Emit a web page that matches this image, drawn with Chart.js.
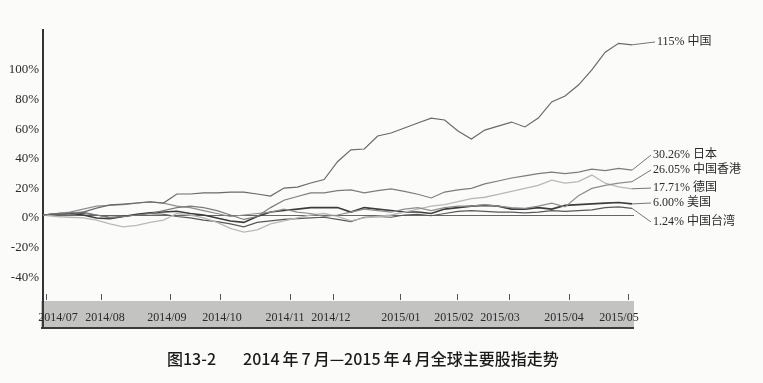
<!DOCTYPE html>
<html><head><meta charset="utf-8">
<script src="https://cdn.jsdelivr.net/npm/chart.js@4.4.1/dist/chart.umd.min.js"></script>
<style>
html,body{margin:0;padding:0;background:#fbfbf9;}
#wrap{position:relative;width:763px;height:383px;}
#c{position:absolute;left:0;top:0;}
#cap{position:absolute;left:167px;top:348px;line-height:20px;font-family:"Noto Sans CJK SC",sans-serif;font-size:16px;font-weight:500;color:#1a1a1a;white-space:nowrap;}
#cap .s{display:inline-block;width:3px;}
</style></head><body>
<div id="wrap"><canvas id="c" width="763" height="383"></canvas>
<div id="cap"><span>图13-2</span><span style="margin-left:27px">2014<span class="s"></span>年<span class="s"></span>7<span class="s"></span>月—2015<span class="s"></span>年<span class="s"></span>4<span class="s"></span>月全球主要股指走势</span></div></div>
<script>
// weekly cumulative returns (%) since 2014/07
const china   = [0,0.7,0,2,4.7,6.8,7.4,8.1,8.8,8.1,14.2,14.2,14.9,14.9,15.5,15.5,14.2,12.8,18.2,18.9,21.6,24,36,44,44.6,53.4,55.4,58.8,62.2,65.5,64.2,56.8,51.4,57.4,60.1,62.8,59.5,65.5,76.4,80.4,87.8,98,110,116,115];
const japan   = [0,1,1.5,2,0,-2,-1,0,1,3,5,6,5,3,0,-3,-1,5,10,12.5,15,15,16.5,17,15,16.5,17.6,16,14,11.5,15.5,17,18,21,23,25,26.5,28,29,28,29,31,30,31.5,30.3];
const hongkong= [0,1,2,4,6,6.5,7,8,9,8,6,5,3,1,-1,0,1,2,4,2,1,-1,0,2,4,3,2,4,5,3,5,6,6,7,6,5,4.5,6,8,5.5,13,18,20,21.5,22.5];
const germany = [0,-1,-1.5,-2,-3.5,-6,-8,-7,-5,-3.5,1,0,-2,-5,-9,-11.5,-10,-6,-4,-2,0,1,-1,-4,-2,-1,0,2,4,6,7,9,11,12,14,16,18,20,23.5,21.5,22.5,27,21.5,19,17.7];
const usa     = [0,0.5,1,0,-2,-2.5,-1,0.5,1.5,2,2.5,1,0,-2,-4,-5,-1,2,3,4,5,5,5,2,5,4,3,2,2,1,4,5,6,6.5,6,4,4,5,4,6.5,7,7.5,8,8.5,7.5];
const taiwan  = [0,1,1.5,1,0,-1.5,-1,0,1,0.5,-1,-2,-3.5,-4.5,-6,-8,-5,-4,-3,-2.5,-2,-1.5,-3,-4.5,-1.5,-1,-1.5,0,0.5,-0.5,1,2.5,3,2.5,2,2,1.5,2,3,2.5,3,3.5,5,5.5,4.5];

const seriesNames  = ['中国','日本','中国香港','德国','美国','中国台湾'];
const seriesLabels = ['115%','30.26%','26.05%','17.71%','6.00%','1.24%'];
const labelAt      = [116.9,40.5,30.4,18.2,8.1,-4.7];   // label anchor (value units)
const labelX       = [45.87,45.57,45.57,45.57,45.57,45.57];

const monthLabels = ['2014/07','2014/08','2014/09','2014/10','2014/11','2014/12','2015/01','2015/02','2015/03','2015/04','2015/05'];
const monthLabelPos = [1.12,4.63,9.26,13.37,18.08,21.51,26.74,30.70,34.14,38.92,43.03];
const monthTickPos  = [0.22,4.33,9.49,13.22,18.45,21.66,26.67,30.93,34.81,39.30,43.70];
const yTicks = [-40,-20,0,20,40,60,80,100];

const allSeries = [china,japan,hongkong,germany,usa,taiwan];
const colors = ['#6a6a6a','#7c7c7c','#8e8e8e','#b8b8b8','#3c3c3c','#585858'];
const widths = [1.2,1.2,1.2,1.3,1.6,1.2];

const serif = '"Liberation Serif","DejaVu Serif",serif';

const bandPlugin = {
  id:'band',
  beforeDraw(chart){
    const {ctx, chartArea:a} = chart;
    const xs = chart.scales.x;
    ctx.save();
    ctx.fillStyle = '#c3c3c1';
    ctx.fillRect(a.left-2, a.bottom, a.right-a.left+2, xs.bottom-a.bottom);
    ctx.strokeStyle = '#3a3a3a';
    ctx.lineWidth = 2;
    ctx.beginPath(); ctx.moveTo(a.left-2, xs.bottom-1); ctx.lineTo(a.right, xs.bottom-1); ctx.stroke();
    ctx.beginPath(); ctx.moveTo(a.left, a.bottom); ctx.lineTo(a.left, xs.bottom); ctx.stroke();
    ctx.restore();
  },
  afterDraw(chart){
    const {ctx, chartArea:a} = chart;
    const xs = chart.scales.x, ys = chart.scales.y;
    ctx.save();
    ctx.strokeStyle = '#555'; ctx.lineWidth = 1;
    monthTickPos.forEach(v=>{
      const px = Math.round(xs.getPixelForValue(v))+0.5;
      ctx.beginPath(); ctx.moveTo(px, a.bottom-7); ctx.lineTo(px, a.bottom-1); ctx.stroke();
    });
    ctx.font = '12px "Liberation Serif","Noto Sans CJK SC",serif';
    ctx.textBaseline = 'middle'; ctx.textAlign = 'left';
    allSeries.forEach((s,i)=>{
      const ex = xs.getPixelForValue(s.length-1), ey = ys.getPixelForValue(s[s.length-1]);
      const lx = xs.getPixelForValue(labelX[i]), ly = ys.getPixelForValue(labelAt[i]);
      ctx.strokeStyle = '#666'; ctx.lineWidth = 0.9;
      ctx.beginPath(); ctx.moveTo(ex, ey); ctx.lineTo(lx-2, ly); ctx.stroke();
      ctx.fillStyle = '#2a2a2a';
      ctx.fillText(seriesLabels[i] + ' ' + seriesNames[i], lx, ly);
    });
    ctx.restore();
  }
};

new Chart(document.getElementById('c'), {
  type:'line',
  data:{
    datasets: allSeries.map((s,i)=>({
      label: seriesNames[i],
      data: s.map((v,k)=>({x:k, y:v})),
      borderColor: colors[i],
      borderWidth: widths[i],
      pointRadius: 0,
      tension: 0,
      fill: false
    }))
  },
  options:{
    responsive:false,
    animation:false,
    layout:{padding:{left:0,right:129,top:30,bottom:54}},
    plugins:{legend:{display:false}, tooltip:{enabled:false}, title:{display:false}},
    scales:{
      x:{
        type:'linear', min:0, max:44.15,
        afterBuildTicks(sc){ sc.ticks = monthLabelPos.map(v=>({value:v})); },
        afterFit(sc){ sc.height = 28; },
        grid:{display:false, drawTicks:false},
        border:{display:false},
        ticks:{
          autoSkip:false, maxRotation:0, padding:10,
          color:'#2a2a2a', font:{family:serif, size:12},
          callback(v, idx){ return monthLabels[idx]; }
        }
      },
      y:{
        type:'linear', min:-58.1, max:125,
        afterBuildTicks(sc){ sc.ticks = yTicks.map(v=>({value:v})); },
        afterFit(sc){ sc.width = 43; },
        grid:{display:true, drawTicks:false, drawOnChartArea:true,
              color(ctx){ return ctx.tick && ctx.tick.value===0 ? '#666' : 'rgba(0,0,0,0)'; }, lineWidth:1},
        border:{display:true, color:'#333', width:2},
        ticks:{padding:4, labelOffset:3, color:'#2a2a2a', font:{family:serif, size:13},
               callback(v){ return v + '%'; }}
      }
    }
  },
  plugins:[bandPlugin]
});
</script></body></html>
